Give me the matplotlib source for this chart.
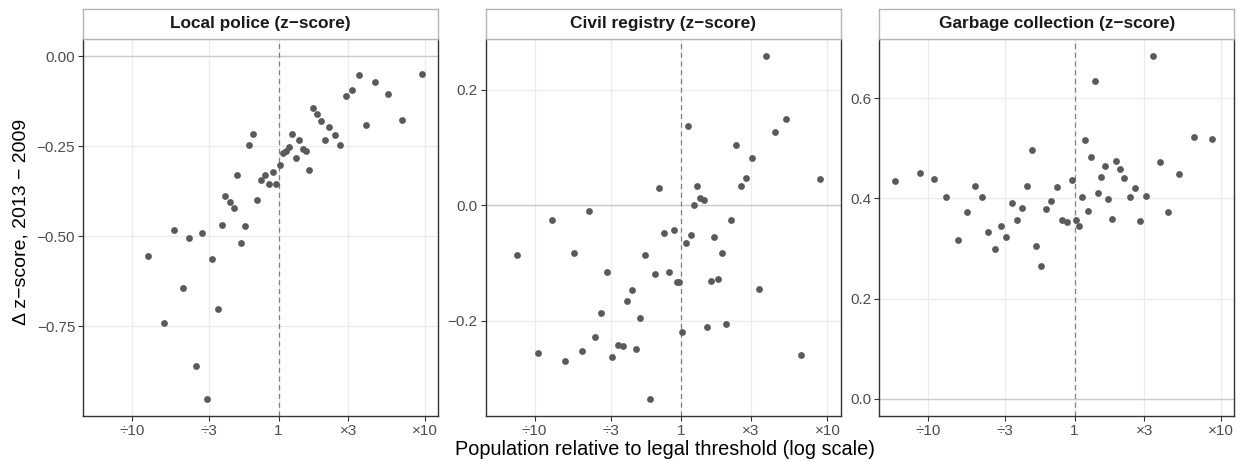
import numpy as np
import matplotlib
matplotlib.use("Agg")
import matplotlib.pyplot as plt
from matplotlib.ticker import FixedLocator, MultipleLocator, FuncFormatter

plt.rcParams['font.family'] = ['Liberation Sans', 'DejaVu Sans']

# log10(population / legal threshold), and change in z-score per panel
police_logx = [0.98, 0.55, 0.661, 0.498, 0.457, 0.75, 0.60, 0.845, 0.236, 0.264,
               0.289, 0.345, 0.382, 0.316, 0.420, 0.093, 0.139, 0.070, 0.048, 0.030,
               0.164, 0.189, 0.116, 0.209, 0.009, -0.041, -0.016, -0.066, -0.093, -0.120,
               -0.173, -0.200, -0.284, -0.145, -0.364, -0.334, -0.307, -0.389, -0.230, -0.259,
               -0.525, -0.452, -0.609, -0.711, -0.655, -0.893, -0.782, -0.564, -0.416, -0.486]
police_dz = [-0.048, -0.051, -0.071, -0.092, -0.110, -0.104, -0.191, -0.178, -0.143, -0.160,
             -0.180, -0.195, -0.219, -0.232, -0.245, -0.217, -0.231, -0.251, -0.262, -0.268,
             -0.256, -0.262, -0.282, -0.315, -0.301, -0.321, -0.355, -0.355, -0.330, -0.343,
             -0.216, -0.247, -0.329, -0.398, -0.387, -0.405, -0.421, -0.468, -0.471, -0.520,
             -0.490, -0.564, -0.506, -0.482, -0.644, -0.554, -0.740, -0.861, -0.702, -0.952]

registry_logx = [0.582, 0.719, 0.642, 0.050, 0.374, 0.484, 0.447, 0.411, 0.947, -0.148,
                 0.112, 0.132, 0.160, 0.091, -0.879, -0.628, 0.340, -0.114, -0.048, 0.068,
                 0.228, 0.032, -1.121, -0.728, -0.244, 0.283, -0.507, -0.178, -0.082, -0.025,
                 -0.014, 0.203, 0.253, 0.534, -0.333, -0.368, -0.546, -0.279, 0.009, 0.180,
                 0.308, -0.587, -0.429, -0.395, -0.304, -0.977, -0.676, -0.792, -0.468, -0.212,
                 0.822]
registry_dz = [0.258, 0.150, 0.127, 0.138, 0.105, 0.082, 0.047, 0.033, 0.045, 0.031,
               0.033, 0.012, 0.009, 0.001, -0.025, -0.010, -0.025, -0.048, -0.043, -0.052,
               -0.055, -0.065, -0.086, -0.083, -0.085, -0.082, -0.116, -0.118, -0.115, -0.132,
               -0.132, -0.131, -0.128, -0.144, -0.146, -0.165, -0.186, -0.195, -0.220, -0.210,
               -0.206, -0.227, -0.241, -0.244, -0.248, -0.256, -0.252, -0.269, -0.263, -0.335,
               -0.259]

garbage_logx = [-1.223, -1.057, -0.959, -0.877, -0.798, -0.732, -0.680, -0.632, -0.589, -0.545,
                -0.505, -0.468, -0.427, -0.393, -0.361, -0.323, -0.293, -0.264, -0.230, -0.193,
                -0.159, -0.123, -0.086, -0.050, -0.018, 0.011, 0.032, 0.048, 0.070, 0.091,
                0.111, 0.136, 0.157, 0.180, 0.205, 0.230, 0.255, 0.282, 0.309, 0.339,
                0.375, 0.411, 0.448, 0.484, 0.532, 0.580, 0.639, 0.716, 0.818, 0.936]
garbage_dz = [0.4345, 0.450, 0.4385, 0.403, 0.316, 0.372, 0.425, 0.402, 0.333, 0.299,
              0.344, 0.323, 0.391, 0.356, 0.381, 0.424, 0.496, 0.304, 0.265, 0.379,
              0.395, 0.423, 0.356, 0.352, 0.436, 0.356, 0.345, 0.403, 0.516, 0.375,
              0.482, 0.633, 0.411, 0.443, 0.464, 0.398, 0.358, 0.475, 0.458, 0.440,
              0.402, 0.420, 0.354, 0.404, 0.683, 0.472, 0.372, 0.448, 0.523, 0.518]

titles = ["Local police (z\u2212score)", "Civil registry (z\u2212score)",
          "Garbage collection (z\u2212score)"]
panels = [(police_logx, police_dz, 0.25, 2),
          (registry_logx, registry_dz, 0.2, 1),
          (garbage_logx, garbage_dz, 0.2, 1)]

tick_ratios = [0.1, 1 / 3, 1, 3, 10]
tick_labels = ["\u00f710", "\u00f73", "1", "\u00d73", "\u00d710"]

W, H = 1239, 461
fig = plt.figure(figsize=(W / 100, H / 100), dpi=100)

lefts = [83.3, 485.7, 879.3]
pw = 355.0
top_px, bottom_px, strip_top = 39.3, 416.0, 9.0

all_logx = np.concatenate([np.asarray(p[0]) for p in panels])
xmin, xmax = all_logx.min(), all_logx.max()
xpad = 0.05 * (xmax - xmin)
xlim = (10 ** (xmin - xpad), 10 ** (xmax + xpad))


def minus_fmt(digits):
    def f(v, pos):
        s = "%.*f" % (digits, v)
        if s.startswith('-'):
            if float(s) == 0:
                s = s[1:]
            else:
                s = "\u2212" + s[1:]
        return s
    return FuncFormatter(f)


for (logx, dz, step, digits), title, left in zip(panels, titles, lefts):
    ax = fig.add_axes([left / W, (H - bottom_px) / H, pw / W, (bottom_px - top_px) / H])
    x = np.power(10.0, np.asarray(logx))
    y = np.asarray(dz)
    ax.set_xscale('log')
    ax.grid(True, color='#ebebeb', linewidth=0.9, zorder=0)
    ax.set_axisbelow(True)
    ax.axhline(0, color='#cccccc', linewidth=1.0, zorder=1)
    ax.axvline(1, color='#7f7f7f', linewidth=0.9, linestyle=(0, (4, 3)), zorder=1)
    ax.scatter(x, y, s=24, color='#5a5a5a', linewidths=0, zorder=3)

    lo, hi = min(y.min(), 0), max(y.max(), 0)
    pad = 0.05 * (hi - lo)
    ax.set_ylim(lo - pad, hi + pad)
    ax.set_xlim(*xlim)
    ax.xaxis.set_major_locator(FixedLocator(tick_ratios))
    ax.xaxis.set_minor_locator(FixedLocator([]))
    ax.set_xticklabels(tick_labels)
    ax.yaxis.set_major_locator(MultipleLocator(step))
    ax.yaxis.set_major_formatter(minus_fmt(digits))
    ax.tick_params(axis='both', length=3.3, width=0.8, color='#333333',
                   labelcolor='#4d4d4d', labelsize=11, pad=2.5)
    for side in ['left', 'right', 'bottom']:
        ax.spines[side].set_color('#333333')
        ax.spines[side].set_linewidth(1.0)
    ax.spines['top'].set_color('#b3b3b3')

    sax = fig.add_axes([left / W, (H - top_px) / H, pw / W, (top_px - strip_top) / H])
    sax.set_xticks([])
    sax.set_yticks([])
    for sp in sax.spines.values():
        sp.set_color('#b3b3b3')
        sp.set_linewidth(1.0)
    sax.text(0.5, 0.52, title, ha='center', va='center', fontsize=12.4,
             fontweight='bold', color='#1a1a1a', transform=sax.transAxes)

fig.text(665 / W, (H - 449.5) / H, "Population relative to legal threshold (log scale)",
         ha='center', va='center', fontsize=14.3)
fig.text(21 / W, (H - 222) / H, "\u0394 z\u2212score, 2013 \u2212 2009",
         ha='center', va='center', rotation=90, fontsize=14)

fig.savefig("out.png", dpi=100)
